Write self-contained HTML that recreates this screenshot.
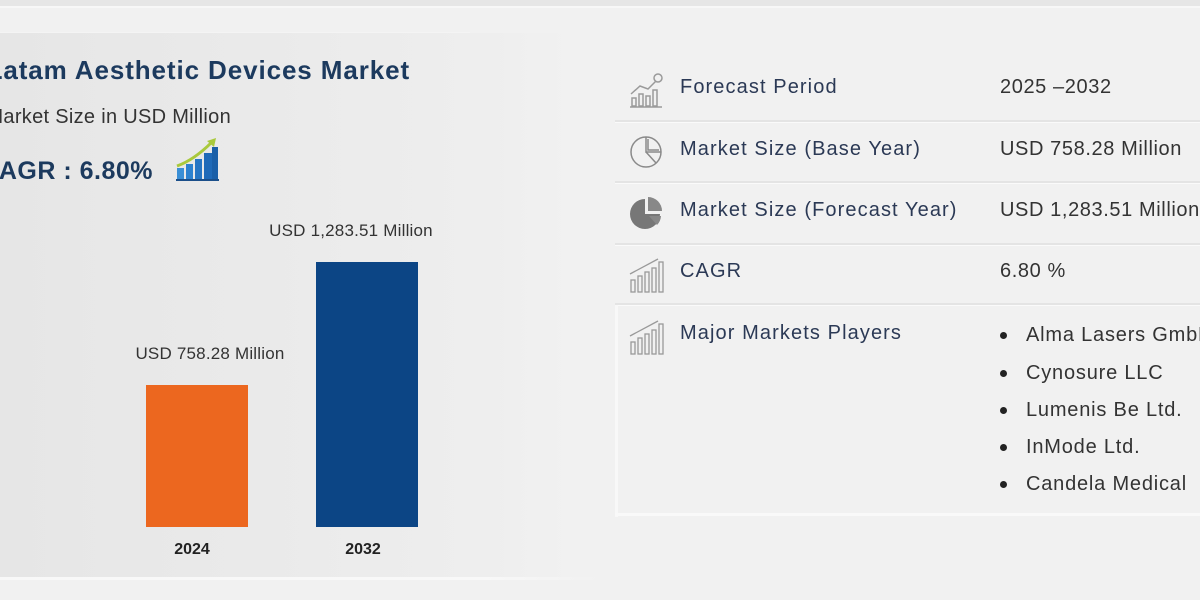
<!DOCTYPE html>
<html>
<head>
<meta charset="utf-8">
<style>
  html,body{margin:0;padding:0;}
  body{width:1200px;height:600px;position:relative;overflow:hidden;background:#f1f1f1;font-family:"Liberation Sans",Arial,sans-serif;}
  .abs{position:absolute;white-space:nowrap;}
  .topband{left:0;top:0;width:1200px;height:6px;background:#e6e6e6;}
  .topline{left:0;top:6px;width:1200px;height:2px;background:#f7f7f7;}
  .leftpanel{left:0;top:33px;width:570px;height:545px;background:linear-gradient(90deg,#e6e6e6 0%,#eaeaea 45%,#eeeeee 85%,#f1f1f1 100%);}
  .leftpanel-top{left:0;top:32px;width:470px;height:1px;background:#f4f4f4;}
  .leftpanel-bot{left:0;top:577px;width:600px;height:3px;background:linear-gradient(90deg,#f8f8f8 0%,#f8f8f8 80%,#f1f1f1 100%);}
  .title{right:790px;top:55px;font-size:26px;font-weight:bold;color:#1c3a5e;letter-spacing:0.9px;line-height:30px;}
  .sub{right:969px;top:105px;font-size:20px;color:#333;line-height:24px;letter-spacing:0.3px;}
  .cagr{right:1047px;top:156px;font-size:25px;font-weight:bold;color:#1c3a5e;line-height:30px;letter-spacing:0.5px;}
  .bar{position:absolute;}
  .lbl{font-size:17px;color:#333;line-height:20px;transform:translateX(-50%);letter-spacing:0.2px;}
  .yr{font-size:16px;font-weight:bold;color:#222;line-height:20px;transform:translateX(-50%);}
  .rowline{left:615px;width:585px;height:2px;background:#e4e4e4;border-bottom:1px solid #fafafa;}
  .rl{left:680px;font-size:20px;color:#2b3955;letter-spacing:1.1px;line-height:24px;}
  .rv{left:1000px;font-size:20px;color:#333;letter-spacing:0.6px;line-height:24px;}
  .bul{left:1000px;width:7px;height:7px;border-radius:50%;background:#222;}
  .pl{left:1026px;font-size:20px;color:#333;letter-spacing:0.8px;line-height:24px;}
</style>
</head>
<body>
<div class="abs topband"></div>
<div class="abs topline"></div>
<div class="abs leftpanel"></div>
<div class="abs leftpanel-top"></div>
<div class="abs leftpanel-bot"></div>

<div class="abs title">Latam Aesthetic Devices Market</div>
<div class="abs sub">Market Size in USD Million</div>
<div class="abs cagr">CAGR : 6.80%</div>

<!-- CAGR icon -->
<svg class="abs" style="left:174px;top:136px" width="46" height="48" viewBox="0 0 46 48">
  <rect x="3" y="32" width="7" height="12" fill="#3a8fd6"/>
  <rect x="12" y="28" width="7" height="16" fill="#2d82cf"/>
  <rect x="21" y="23" width="7" height="21" fill="#2676c4"/>
  <rect x="30" y="17" width="8" height="27" fill="#1f6ab8"/>
  <rect x="38" y="11" width="6" height="33" fill="#1a5fa8"/>
  <rect x="2" y="43" width="43" height="2" fill="#1b4f8a"/>
  <path d="M3 30 Q20 24 38 6" stroke="#a9c93c" stroke-width="3" fill="none"/>
  <polygon points="33,5 42,2 40,11" fill="#a9c93c"/>
</svg>

<!-- bars -->
<div class="bar" style="left:146px;top:385px;width:102px;height:142px;background:#ec671f;"></div>
<div class="bar" style="left:316px;top:262px;width:102px;height:265px;background:#0c4585;"></div>

<div class="abs lbl" style="left:210px;top:344px;">USD 758.28 Million</div>
<div class="abs lbl" style="left:351px;top:221px;">USD 1,283.51 Million</div>
<div class="abs yr" style="left:192px;top:540px;">2024</div>
<div class="abs yr" style="left:363px;top:540px;">2032</div>

<!-- table -->
<div class="abs rowline" style="top:120px;"></div>
<div class="abs rowline" style="top:181px;"></div>
<div class="abs rowline" style="top:243px;"></div>
<div class="abs rowline" style="top:303px;"></div>
<div class="abs" style="left:615px;top:305px;width:3px;height:212px;background:#f8f8f8;"></div>
<div class="abs" style="left:615px;top:513px;width:585px;height:3px;background:#f9f9f9;"></div>

<!-- icons -->
<svg class="abs" style="left:628px;top:72px" width="38" height="38" viewBox="0 0 38 38" fill="none" stroke="#9a9a9a" stroke-width="1.5">
  <rect x="4" y="26" width="4" height="8"/><rect x="11" y="22" width="4" height="12"/><rect x="18" y="24" width="4" height="10"/><rect x="25" y="18" width="4" height="16"/>
  <line x1="2" y1="35" x2="34" y2="35"/>
  <path d="M3 22 L12 14 L20 17 L28 9"/>
  <circle cx="30" cy="6" r="4"/>
</svg>
<svg class="abs" style="left:628px;top:133px" width="38" height="38" viewBox="0 0 38 38" fill="none" stroke="#8a8a8a" stroke-width="1.5">
  <circle cx="18" cy="19" r="15"/>
  <path d="M18 4 L18 19 L33 19"/>
  <path d="M18 19 L28 30"/>
  <path d="M20 6 L20 17 L31 17"/>
</svg>
<svg class="abs" style="left:628px;top:194px" width="38" height="38" viewBox="0 0 38 38">
  <path d="M17 5 A15 15 0 1 0 32 20 L17 20 Z" fill="#777"/>
  <path d="M20 3 L20 17 L34 17 A14 14 0 0 0 20 3 Z" fill="#888"/>
  <path d="M21 22 L33 22 A14 14 0 0 1 29 31 Z" fill="#888"/>
</svg>
<svg class="abs" style="left:628px;top:256px" width="38" height="38" viewBox="0 0 38 38" fill="none" stroke="#999" stroke-width="1.3">
  <rect x="3" y="24" width="4" height="12"/><rect x="10" y="20" width="4" height="16"/><rect x="17" y="16" width="4" height="20"/><rect x="24" y="12" width="4" height="24"/><rect x="31" y="6" width="4" height="30"/>
  <path d="M2 18 L30 3"/>
</svg>
<svg class="abs" style="left:628px;top:318px" width="38" height="38" viewBox="0 0 38 38" fill="none" stroke="#999" stroke-width="1.3">
  <rect x="3" y="24" width="4" height="12"/><rect x="10" y="20" width="4" height="16"/><rect x="17" y="16" width="4" height="20"/><rect x="24" y="12" width="4" height="24"/><rect x="31" y="6" width="4" height="30"/>
  <path d="M2 18 L30 3"/>
</svg>

<div class="abs rl" style="top:75px;">Forecast Period</div>
<div class="abs rv" style="top:75px;">2025 –2032</div>
<div class="abs rl" style="top:137px;">Market Size (Base Year)</div>
<div class="abs rv" style="top:137px;">USD 758.28 Million</div>
<div class="abs rl" style="top:198px;">Market Size (Forecast Year)</div>
<div class="abs rv" style="top:198px;">USD 1,283.51 Million</div>
<div class="abs rl" style="top:259px;">CAGR</div>
<div class="abs rv" style="top:259px;">6.80 %</div>
<div class="abs rl" style="top:321px;">Major Markets Players</div>

<div class="abs bul" style="top:332px;"></div><div class="abs pl" style="top:323px;">Alma Lasers GmbH</div>
<div class="abs bul" style="top:370px;"></div><div class="abs pl" style="top:361px;">Cynosure LLC</div>
<div class="abs bul" style="top:407px;"></div><div class="abs pl" style="top:398px;">Lumenis Be Ltd.</div>
<div class="abs bul" style="top:444px;"></div><div class="abs pl" style="top:435px;">InMode Ltd.</div>
<div class="abs bul" style="top:481px;"></div><div class="abs pl" style="top:472px;">Candela Medical</div>
</body>
</html>
